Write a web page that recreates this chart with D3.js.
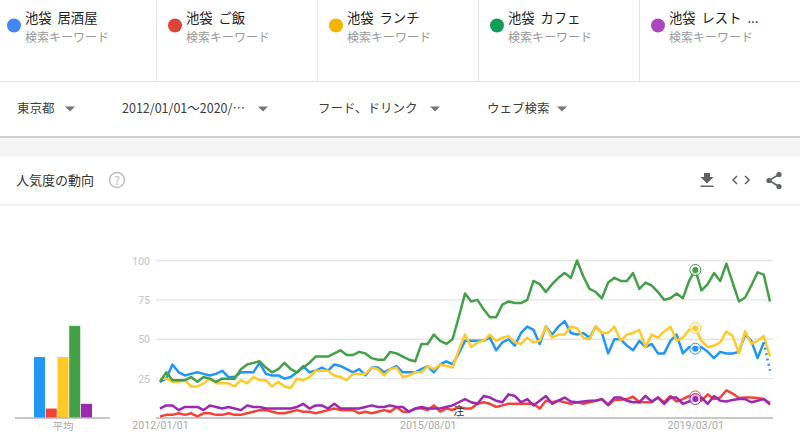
<!DOCTYPE html>
<html lang="ja"><head><meta charset="utf-8">
<script src="https://cdn.jsdelivr.net/npm/d3@7"></script>
<style>
html,body{margin:0;padding:0;background:#fff;overflow:hidden}
text{font-family:"Noto Sans CJK JP","Noto Sans",sans-serif}
.num{font-family:Roboto,sans-serif}
</style></head><body>
<svg id="c" width="800" height="446"></svg>
<script>
const keywords = ["池袋 居酒屋","池袋 ご飯","池袋 ランチ","池袋 カフェ","池袋 レスト ..."];
const cardSub = "検索キーワード";
const filters = ["東京都","2012/01/01～2020/…","フード、ドリンク","ウェブ検索"];
const dotColors = ["#4285f4","#db4437","#f4b400","#0f9d58","#ab47bc"];
const lineColors = ["#2196f3","#f44336","#ffca28","#43a047","#9c27b0"];
const yTicks = [25,50,75,100];
const xTickLabels = {0:"2012/01/01",43:"2015/08/01",86:"2019/03/01"};
const averages = [38.7,6,38.7,58.5,9];
const blue = [23,25,34,29,27,28,29,28,27,28,30,26,26,29,29,29,35,28,27,27,25,26,29,33,29,30,32,30,34,33,31,29,31,27,32,32,29,31,33,29,29,29,31,33,29,34,36,34,41,49,49,49,49,51,43,48,50,46,54,58,56,47,58,53,58,61.5,54,53,54,51,58,54,41,50,50,46,43,49,45,47,41,41,49,53,41,45,44,45,42,38,42,41,41,42,53,49,38,48];
const blueLast = 30;
const red = [1,2,2,3,2,3,1,3,3,2,2,3,2,2,3,4,5,5,4,3,3,4,5,4,4,3,4,5,6,5,5,5,3,4,3,4,5,4,7,4,4,6,6,5,8,4,6,5,7,6,6,9,10,9,7,8,9,9,9,9,9,6,11,10,11,10,9,10,9,10,11,12,8,11.6,11.6,12,13.5,10,10,10,13,10,14,10.5,12,14,13.7,11,15,12,13,17.5,15.5,12.7,13,13,12.7,12,9.5];
const yellow = [25,25,23,23,24,20,20,22,25,22,22,22,20,24,22,26,24,24,20,23,20,19,25,24,26,30,30,30,27,26,24,28,28,28,32,31,27,31,32,26,27,29,29,33,31,34,33,32,43,53,45,48,49,53,49,51,52,48,47,51,48,49,58,51,53,53,58,57,51,50,58,54,54,58,49,53,54,56,45,53,51,55,58,49,51,56,57,49,45,46,48,55,52,41,55,47,49,52,39];
const green = [23,29,24,24,24,26,23,26,25,23,25,25,25,31,34,35,36,32,29,31,35,31,29,32,35,39,39,39,41,43,40,40,42,41,38,37,37,42,41,39,37,36,47,47,53,49,47,50,64,79,74,75,69,64,64,72,74,73,73,75,87,85,80,85,89,92,89,100,90,82,80,76,86,89,87,87,92,82,86,84,80,75,76,79,76,87,94,81,85,92,87,98,86,74,76.5,84,92.5,91,74];
const purple = [6,8,8,5,7,7,7,5,8,7,6,7,6,5,8,7,7,6,6,6,6,6,7,9,6,8,8,6,9,6,6,6,6,7,8,7,7,8,7,7,4,6,7,6,6,6,7,8,10,12,10,9,14,13,11,10,15,14,10,12,8,11,14,9,11,13,10.5,10,10.5,11,11,12,8.5,13,13,11,10,10,14,10.5,13,9,13,13,9,10.5,12,13,9,14,11,10.5,11.5,12,12,10,11,12,8.5];
const markerIndex = 86;
const noteLabel = "注";
const noteIndex = 48;

const svg = d3.select("#c");
const series = [blue,red,yellow,green,purple];

// page furniture
const dividers = [156,317,478,639];
svg.append("rect").attr("x",0).attr("y",137).attr("width",800).attr("height",20).attr("fill","#f5f5f5");
svg.append("rect").attr("x",0).attr("y",136).attr("width",800).attr("height",2).attr("fill","#cfcfcf");
svg.append("rect").attr("x",0).attr("y",81).attr("width",800).attr("height",1).attr("fill","#e3e3e3");
svg.append("rect").attr("x",0).attr("y",204).attr("width",800).attr("height",1.5).attr("fill","#ececec");
svg.selectAll(".dv").data(dividers).join("rect").attr("x",d=>d).attr("y",0).attr("width",1).attr("height",81).attr("fill","#e3e3e3");

// cards
const cards = svg.selectAll(".card").data(keywords).join("g").attr("transform",(d,i)=>`translate(${[0,161,322,483,644][i]},0)`);
cards.append("circle").attr("cx",14).attr("cy",25.5).attr("r",7).attr("fill",(d,i)=>dotColors[i]);
cards.append("text").attr("x",25).attr("y",23).attr("font-size",13.3).attr("fill","#212121").attr("xml:space","preserve").text(d=>d.replace(" ","  ").replace(" ...","  ..."));
cards.append("text").attr("x",25).attr("y",42).attr("font-size",12).attr("fill","#9a9a9a").text(cardSub);

// filters
const fx = [17,122,318,487], tx=[70,263,435,562];
filters.forEach((f,i)=>{
  svg.append("text").attr("x",fx[i]).attr("y",113).attr("font-size",12.5).attr("fill","#3c3c3c").text(f);
  svg.append("path").attr("d",`M${tx[i]-5},106.5h10l-5,5z`).attr("fill","#757575");
});

// header
svg.append("text").attr("x",16).attr("y",185).attr("font-size",13).attr("fill","#333").text("人気度の動向");
svg.append("circle").attr("cx",117).attr("cy",180).attr("r",7.5).attr("fill","none").attr("stroke","#bdbdbd").attr("stroke-width",1.5);
svg.append("text").attr("x",117).attr("y",184.5).attr("text-anchor","middle").attr("font-size",12).attr("fill","#bdbdbd").text("?");
svg.append("path").attr("d","M704,173h6v4h3.5l-6.5,6.5l-6.5,-6.5h3.5zM700.5,185.5h13v1.6h-13z").attr("fill","#5f6368");
svg.append("path").attr("d","M737,176l-4,4l4,4M745,176l4,4l-4,4").attr("fill","none").attr("stroke","#5f6368").attr("stroke-width",1.5);
svg.append("path").attr("d","M779,174.5L769,180.5L779,186.5").attr("fill","none").attr("stroke","#5f6368").attr("stroke-width",1.5);
svg.selectAll(".sh").data([[779,174.5],[769,180.5],[779,186.5]]).join("circle").attr("cx",d=>d[0]).attr("cy",d=>d[1]).attr("r",2.6).attr("fill","#5f6368");

// scales
const x = d3.scalePoint().domain(d3.range(red.length)).range([160,770]);
const y = d3.scaleLinear().domain([0,100]).range([418,260.5]);

// grid
svg.append("g").selectAll("line").data(yTicks).join("line").attr("x1",156).attr("x2",773).attr("y1",d=>y(d)).attr("y2",d=>y(d)).attr("stroke","#e6e6e6").attr("stroke-width",1.3);
svg.append("g").selectAll("text").data(yTicks).join("text").attr("class","num").attr("x",150).attr("y",d=>y(d)+4).attr("text-anchor","end").attr("font-size",10.5).attr("fill","#c4c4c4").text(d=>d);

// x axis
const xAxis = d3.axisBottom(x).tickValues(Object.keys(xTickLabels).map(Number)).tickSize(0).tickFormat(d=>xTickLabels[d]);
const gx = svg.append("g").attr("transform","translate(0,418)").call(xAxis);
gx.select(".domain").remove();
gx.selectAll("text").attr("class","num").attr("font-size",10.6).attr("fill","#a8a8a8").attr("y",3).attr("dy","0.71em");
svg.append("line").attr("x1",156).attr("x2",773).attr("y1",418).attr("y2",418).attr("stroke","#b5b5b5").attr("stroke-width",1.3);

// lines
const line = d3.line().x((d,i)=>x(i)).y(d=>y(d));
series.forEach((s,k)=>{
  svg.append("path").attr("d",line(s)).attr("fill","none").attr("stroke",lineColors[k]).attr("stroke-width",2.5).attr("stroke-linejoin","round");
});
// partial-data dotted tail
const tail = [[blue.length-1,blue[blue.length-1]],[blue.length,blueLast]];
svg.append("path").attr("d",d3.line().x(d=>x(d[0])).y(d=>y(d[1]))(tail)).attr("fill","none").attr("stroke",lineColors[0]).attr("stroke-width",2.5).attr("stroke-dasharray","2 3.5");

// hover markers
series.forEach((s,k)=>{
  const g = svg.append("g");
  g.append("circle").attr("cx",x(markerIndex)).attr("cy",y(s[markerIndex])).attr("r",5.5).attr("fill","#fff").attr("fill-opacity",0.6).attr("stroke",lineColors[k]).attr("stroke-width",1);
  g.append("circle").attr("cx",x(markerIndex)).attr("cy",y(s[markerIndex])).attr("r",3).attr("fill",lineColors[k]);
});

// note
svg.append("line").attr("x1",x(noteIndex)).attr("x2",x(noteIndex)).attr("y1",415).attr("y2",418).attr("stroke","#aaa");
svg.append("text").attr("x",x(noteIndex)).attr("y",414.5).attr("text-anchor","middle").attr("font-size",11).attr("fill","#333").text(noteLabel);

// averages bar chart
const bx = d3.scaleBand().domain(d3.range(averages.length)).range([34,92]).paddingInner(0.06);
svg.selectAll(".bar").data(averages).join("rect").attr("x",(d,i)=>bx(i)).attr("width",bx.bandwidth()).attr("y",d=>y(d)).attr("height",d=>y(0)-y(d)).attr("fill",(d,i)=>lineColors[i]);
svg.append("line").attr("x1",15).attr("x2",110).attr("y1",418).attr("y2",418).attr("stroke","#b5b5b5").attr("stroke-width",1.3);
svg.append("text").attr("x",63).attr("y",430).attr("text-anchor","middle").attr("font-size",10.5).attr("fill","#a8a8a8").text("平均");
</script>
</body></html>
